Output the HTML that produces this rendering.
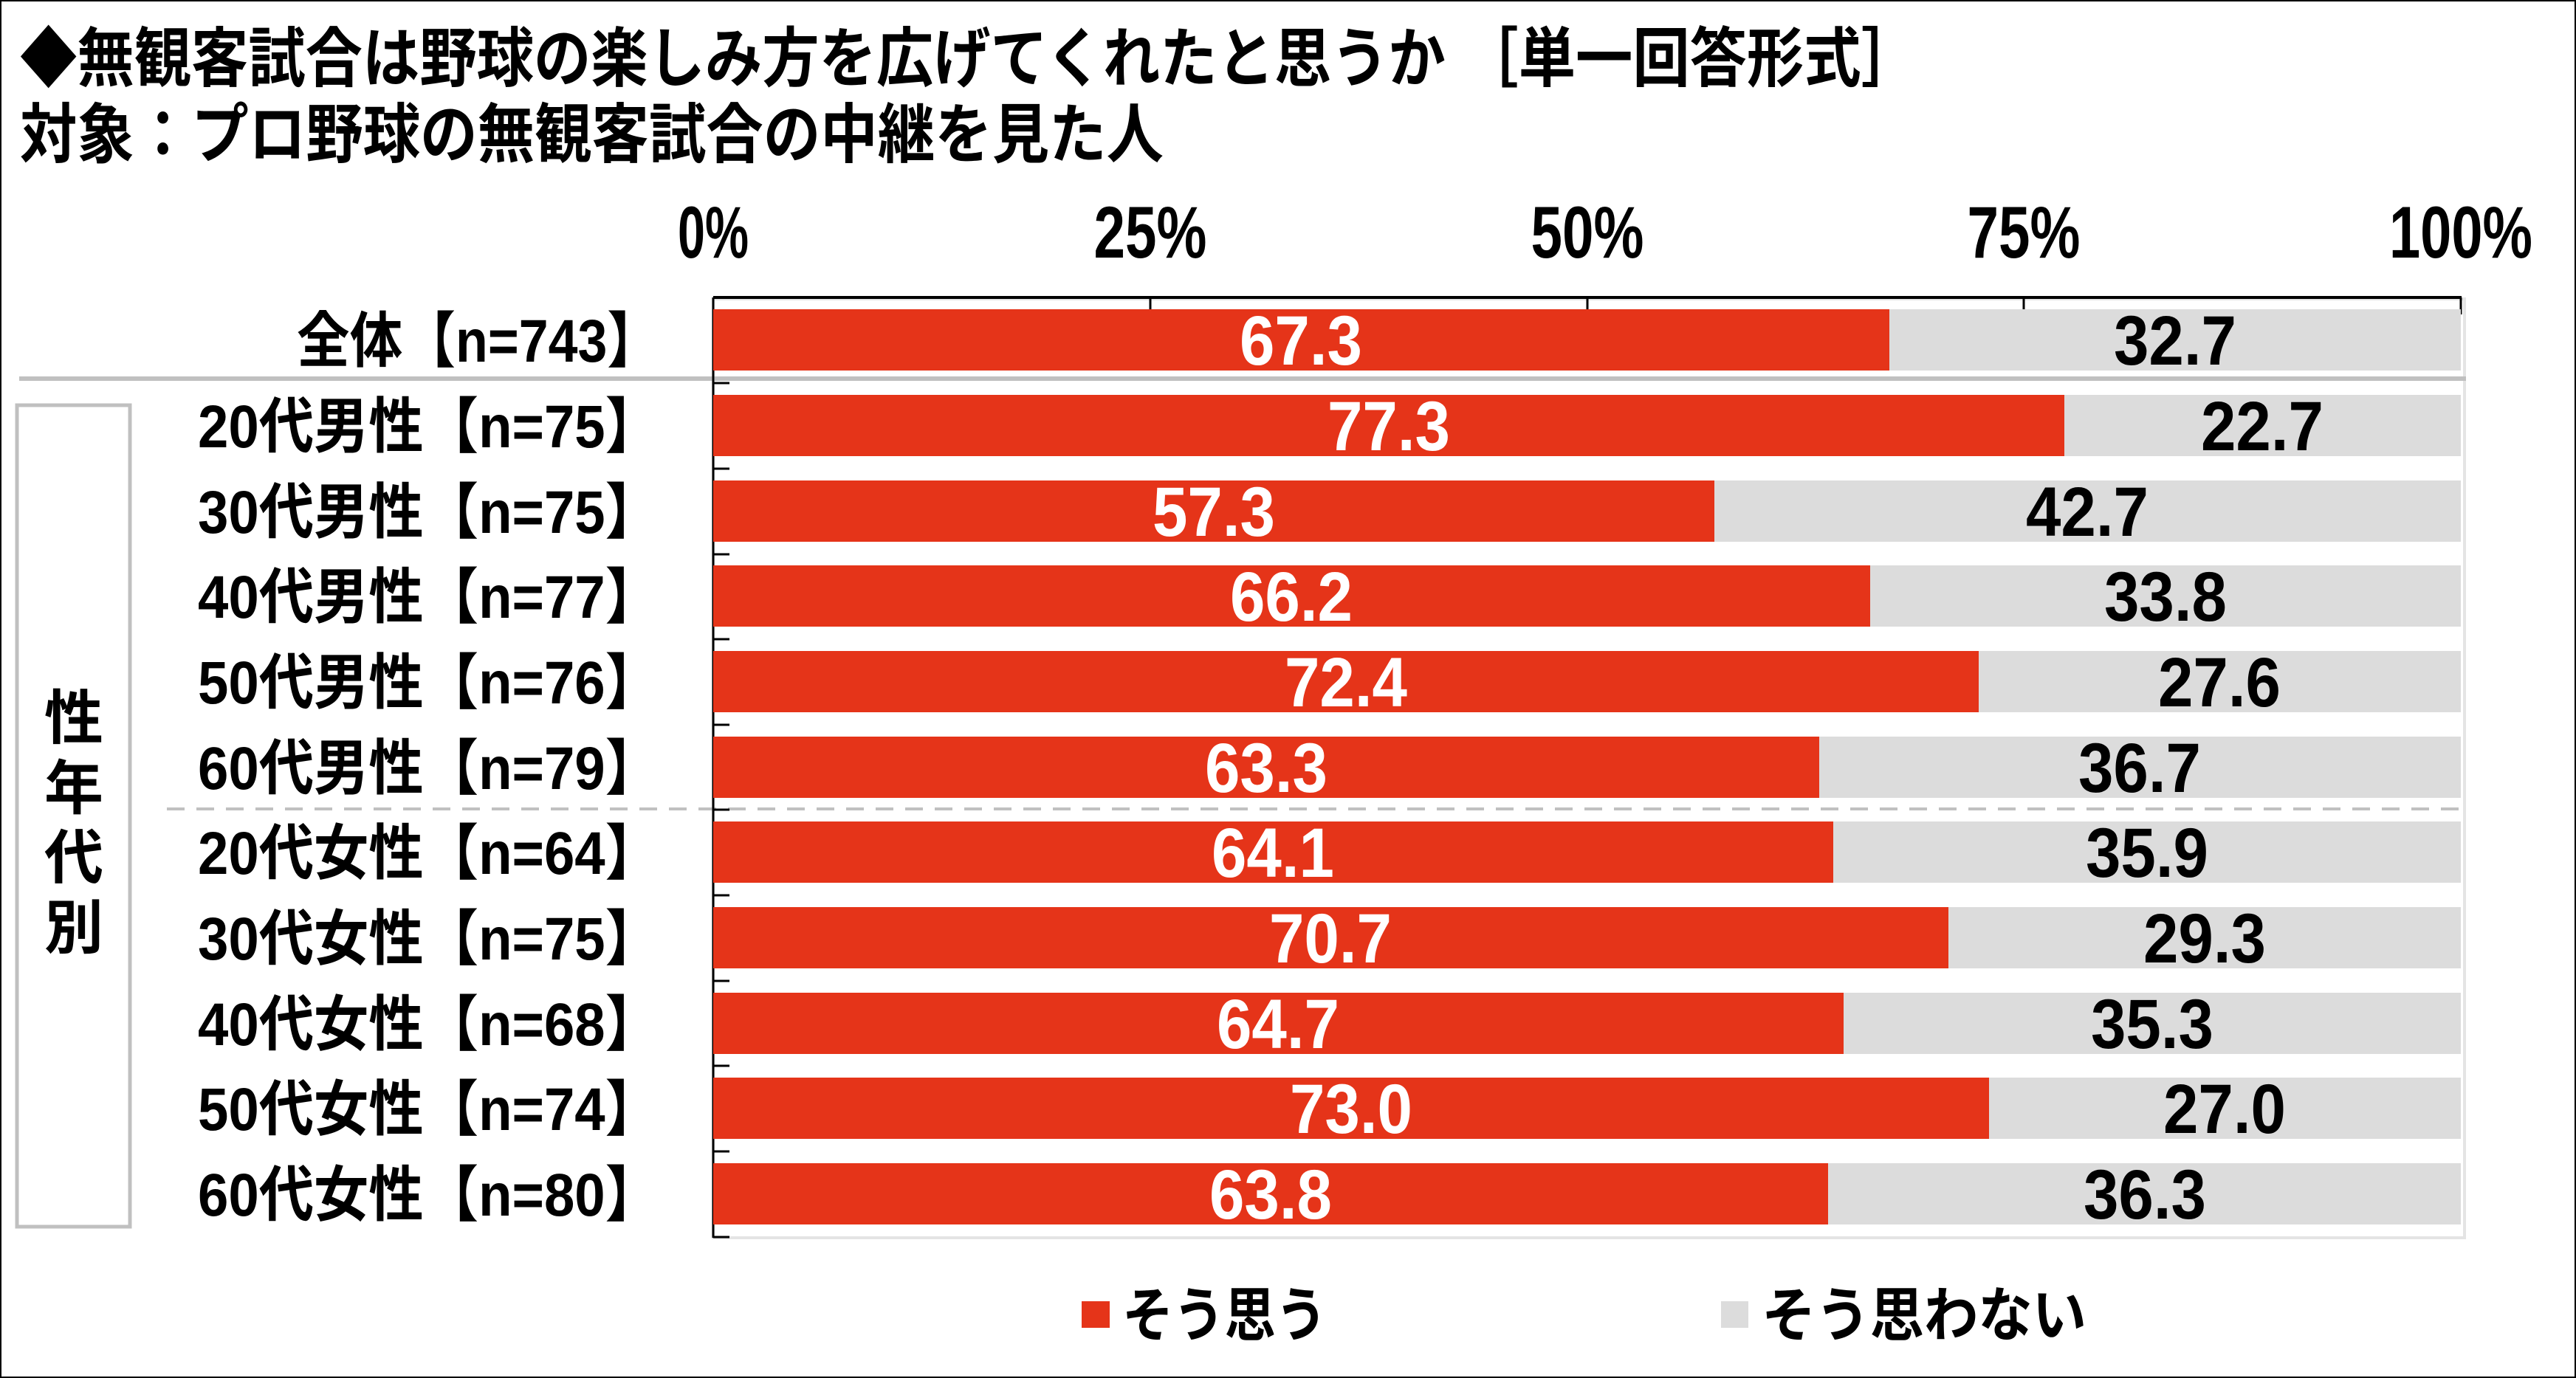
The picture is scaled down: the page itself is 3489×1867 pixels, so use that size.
<!DOCTYPE html>
<html><head><meta charset="utf-8"><style>html,body{margin:0;padding:0;background:#fff}svg{display:block}</style></head>
<body>
<svg xmlns="http://www.w3.org/2000/svg" width="3489" height="1867" viewBox="0 0 3489 1867" font-family="'Liberation Sans','Noto Sans CJK JP',sans-serif" font-weight="bold">
<rect x="1" y="1" width="3487" height="1865" fill="#fff" stroke="#000" stroke-width="2"/>
<text x="27" y="110" font-size="88" textLength="2571" lengthAdjust="spacingAndGlyphs">◆無観客試合は野球の楽しみ方を広げてくれたと思うか ［単一回答形式］</text>
<text x="27" y="213" font-size="88" textLength="1549" lengthAdjust="spacingAndGlyphs">対象：プロ野球の無観客試合の中継を見た人</text>
<g font-size="99" text-anchor="middle">
<text x="966" y="349" textLength="96" lengthAdjust="spacingAndGlyphs">0%</text>
<text x="1558" y="349" textLength="153" lengthAdjust="spacingAndGlyphs">25%</text>
<text x="2150" y="349" textLength="153" lengthAdjust="spacingAndGlyphs">50%</text>
<text x="2741" y="349" textLength="153" lengthAdjust="spacingAndGlyphs">75%</text>
<text x="3333" y="349" textLength="194" lengthAdjust="spacingAndGlyphs">100%</text>
</g>
<rect x="966" y="405" width="2372" height="1272" fill="none" stroke="#e4e4e4" stroke-width="4"/>
<g id="bars"></g>
<line x1="26" y1="513" x2="3340" y2="513" stroke="#c0c0c0" stroke-width="6"/>
<line x1="226" y1="1096" x2="3333" y2="1096" stroke="#c0c0c0" stroke-width="4" stroke-dasharray="24,16"/>
<rect x="23" y="549" width="153" height="1113" fill="none" stroke="#c0c0c0" stroke-width="5"/>
<g font-size="80" text-anchor="middle">
<text x="100" y="1001">性</text><text x="100" y="1096">年</text><text x="100" y="1190">代</text><text x="100" y="1285">別</text>
</g>
<line x1="966" y1="403" x2="3334" y2="403" stroke="#000" stroke-width="4"/>
<line x1="966" y1="403" x2="966" y2="1677" stroke="#000" stroke-width="3"/>
<g stroke="#000" stroke-width="3">
<line x1="1558" y1="403" x2="1558" y2="426"/><line x1="2150" y1="403" x2="2150" y2="426"/><line x1="2741" y1="403" x2="2741" y2="426"/><line x1="3333" y1="403" x2="3333" y2="426"/>
<line x1="966" y1="519" x2="988" y2="519"/>
<line x1="966" y1="635" x2="988" y2="635"/><line x1="966" y1="751" x2="988" y2="751"/><line x1="966" y1="866" x2="988" y2="866"/><line x1="966" y1="982" x2="988" y2="982"/><line x1="966" y1="1097" x2="988" y2="1097"/><line x1="966" y1="1213" x2="988" y2="1213"/><line x1="966" y1="1329" x2="988" y2="1329"/><line x1="966" y1="1444" x2="988" y2="1444"/><line x1="966" y1="1560" x2="988" y2="1560"/><line x1="966" y1="1676" x2="988" y2="1676"/>
</g>
<!-- bars -->
<g>
<rect x="966" y="419" width="2367" height="83" fill="#dcdcdc"/><rect x="966" y="419" width="1593" height="83" fill="#e53419"/>
<rect x="966" y="535" width="2367" height="83" fill="#dcdcdc"/><rect x="966" y="535" width="1830" height="83" fill="#e53419"/>
<rect x="966" y="651" width="2367" height="83" fill="#dcdcdc"/><rect x="966" y="651" width="1356" height="83" fill="#e53419"/>
<rect x="966" y="766" width="2367" height="83" fill="#dcdcdc"/><rect x="966" y="766" width="1567" height="83" fill="#e53419"/>
<rect x="966" y="882" width="2367" height="83" fill="#dcdcdc"/><rect x="966" y="882" width="1714" height="83" fill="#e53419"/>
<rect x="966" y="998" width="2367" height="83" fill="#dcdcdc"/><rect x="966" y="998" width="1498" height="83" fill="#e53419"/>
<rect x="966" y="1113" width="2367" height="83" fill="#dcdcdc"/><rect x="966" y="1113" width="1517" height="83" fill="#e53419"/>
<rect x="966" y="1229" width="2367" height="83" fill="#dcdcdc"/><rect x="966" y="1229" width="1673" height="83" fill="#e53419"/>
<rect x="966" y="1345" width="2367" height="83" fill="#dcdcdc"/><rect x="966" y="1345" width="1531" height="83" fill="#e53419"/>
<rect x="966" y="1460" width="2367" height="83" fill="#dcdcdc"/><rect x="966" y="1460" width="1728" height="83" fill="#e53419"/>
<rect x="966" y="1576" width="2367" height="83" fill="#dcdcdc"/><rect x="966" y="1576" width="1510" height="83" fill="#e53419"/>
</g>
<g font-size="95" text-anchor="middle" fill="#fff">
<text x="1762" y="494" textLength="166" lengthAdjust="spacingAndGlyphs">67.3</text>
<text x="1881" y="610" textLength="166" lengthAdjust="spacingAndGlyphs">77.3</text>
<text x="1644" y="726" textLength="166" lengthAdjust="spacingAndGlyphs">57.3</text>
<text x="1749" y="841" textLength="166" lengthAdjust="spacingAndGlyphs">66.2</text>
<text x="1823" y="957" textLength="166" lengthAdjust="spacingAndGlyphs">72.4</text>
<text x="1715" y="1073" textLength="166" lengthAdjust="spacingAndGlyphs">63.3</text>
<text x="1724" y="1188" textLength="166" lengthAdjust="spacingAndGlyphs">64.1</text>
<text x="1802" y="1304" textLength="166" lengthAdjust="spacingAndGlyphs">70.7</text>
<text x="1731" y="1420" textLength="166" lengthAdjust="spacingAndGlyphs">64.7</text>
<text x="1830" y="1535" textLength="166" lengthAdjust="spacingAndGlyphs">73.0</text>
<text x="1721" y="1651" textLength="166" lengthAdjust="spacingAndGlyphs">63.8</text>
</g>
<g font-size="95" text-anchor="middle" fill="#000">
<text x="2946" y="494" textLength="166" lengthAdjust="spacingAndGlyphs">32.7</text>
<text x="3064" y="610" textLength="166" lengthAdjust="spacingAndGlyphs">22.7</text>
<text x="2827" y="726" textLength="166" lengthAdjust="spacingAndGlyphs">42.7</text>
<text x="2933" y="841" textLength="166" lengthAdjust="spacingAndGlyphs">33.8</text>
<text x="3006" y="957" textLength="166" lengthAdjust="spacingAndGlyphs">27.6</text>
<text x="2898" y="1073" textLength="166" lengthAdjust="spacingAndGlyphs">36.7</text>
<text x="2908" y="1188" textLength="166" lengthAdjust="spacingAndGlyphs">35.9</text>
<text x="2986" y="1304" textLength="166" lengthAdjust="spacingAndGlyphs">29.3</text>
<text x="2915" y="1420" textLength="166" lengthAdjust="spacingAndGlyphs">35.3</text>
<text x="3013" y="1535" textLength="166" lengthAdjust="spacingAndGlyphs">27.0</text>
<text x="2905" y="1651" textLength="166" lengthAdjust="spacingAndGlyphs">36.3</text>
</g>
<g font-size="82" text-anchor="end">
<text x="894" y="490" textLength="492" lengthAdjust="spacingAndGlyphs">全体【n=743】</text>
<text x="894" y="606" textLength="626" lengthAdjust="spacingAndGlyphs">20代男性【n=75】</text>
<text x="894" y="722" textLength="626" lengthAdjust="spacingAndGlyphs">30代男性【n=75】</text>
<text x="894" y="837" textLength="626" lengthAdjust="spacingAndGlyphs">40代男性【n=77】</text>
<text x="894" y="953" textLength="626" lengthAdjust="spacingAndGlyphs">50代男性【n=76】</text>
<text x="894" y="1069" textLength="626" lengthAdjust="spacingAndGlyphs">60代男性【n=79】</text>
<text x="894" y="1184" textLength="626" lengthAdjust="spacingAndGlyphs">20代女性【n=64】</text>
<text x="894" y="1300" textLength="626" lengthAdjust="spacingAndGlyphs">30代女性【n=75】</text>
<text x="894" y="1416" textLength="626" lengthAdjust="spacingAndGlyphs">40代女性【n=68】</text>
<text x="894" y="1531" textLength="626" lengthAdjust="spacingAndGlyphs">50代女性【n=74】</text>
<text x="894" y="1647" textLength="626" lengthAdjust="spacingAndGlyphs">60代女性【n=80】</text>
</g>
<rect x="1465" y="1763" width="38" height="36" fill="#e53419"/>
<text x="1520" y="1810" font-size="80" textLength="277" lengthAdjust="spacingAndGlyphs">そう思う</text>
<rect x="2331" y="1763" width="37" height="36" fill="#dcdcdc"/>
<text x="2386" y="1810" font-size="80" textLength="440" lengthAdjust="spacingAndGlyphs">そう思わない</text>
</svg>
</body></html>
